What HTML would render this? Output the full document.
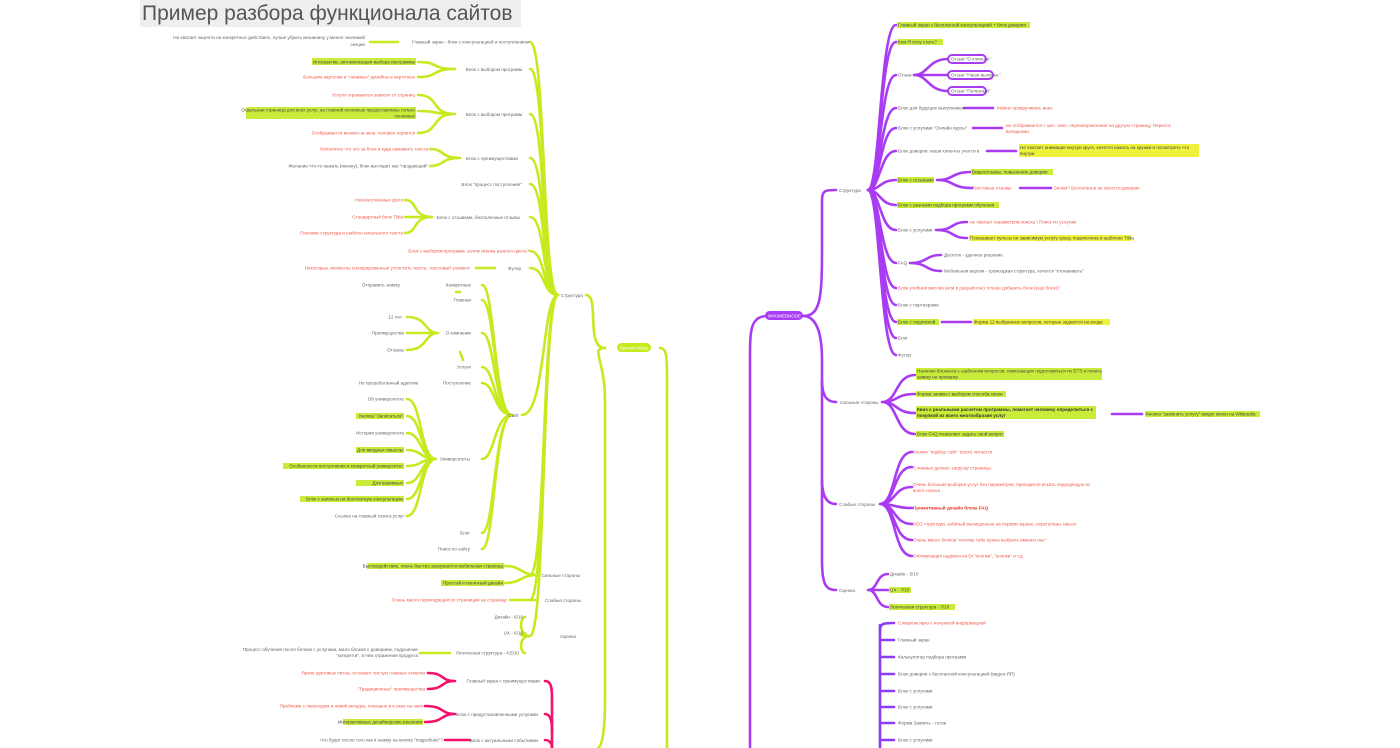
<!DOCTYPE html>
<html><head><meta charset="utf-8"><style>
html,body{margin:0;padding:0;background:#fff;width:1400px;height:748px;overflow:hidden}
svg{display:block}
text{font-family:"Liberation Sans",sans-serif;font-size:4.6px;fill:#666}
.r{fill:#f0584a}.b{font-weight:bold;fill:#333}.rb{font-weight:bold;fill:#e53a2a}
.e{text-anchor:end}
.g{stroke:#c5ea1e;fill:none;stroke-linecap:round}
.p{stroke:#a93cf2;fill:none;stroke-linecap:round}
.k{stroke:#f5116b;fill:none;stroke-linecap:round}
.v{stroke:#8d3cf5;fill:none;stroke-linecap:round}
.hl{fill:#c9ec3a}.hy{fill:#eef23a}
</style></head><body>
<svg width="1400" height="748" viewBox="0 0 1400 748">
<rect x="140" y="0" width="381" height="27" fill="#eeeeee"/>
<text x="142" y="20" style="font-size:21px;fill:#555">Пример разбора функционала сайтов</text>

<!-- GREEN main -->
<g class="g" stroke-width="2.6">
<path d="M605,348 C585,348 600,295 586,295"/>
<path d="M605,348 C590,348 605,360 605,400 L605,700 C605,740 600,748 598,748"/>
<path d="M660,348 C668,348 667,360 667,400 L667,748"/>
<path d="M558,295 C542,295 546,42 530,42"/>
<path d="M558,295 C542,295 546,69 530,69"/>
<path d="M558,295 C542,295 546,114 530,114"/>
<path d="M558,295 C542,295 546,158 530,158"/>
<path d="M558,295 C542,295 546,184 530,184"/>
<path d="M558,295 C542,295 546,217 530,217"/>
<path d="M558,295 C542,295 546,251 530,251"/>
<path d="M558,295 C542,295 546,268 530,268"/>
<path d="M558,295 C542,295 546,415 522,415"/>
<path d="M558,295 C542,295 546,575 530,575"/>
<path d="M558,295 C542,295 546,600 530,600"/>
<path d="M558,295 C542,295 546,636 530,636"/>
<path d="M370,42 L398,42"/>
<path d="M455,69 C430,69 440,62 418,62 M455,69 C430,69 440,77 418,77"/>
<path d="M455,114 C430,114 440,95 418,95 M455,114 C430,114 440,111 418,111 M455,114 C430,114 440,133 418,133"/>
<path d="M460,158 C440,158 445,149 430,149 M460,158 C440,158 445,166 430,166"/>
<path d="M432,217 C412,217 418,200 405,200 M432,217 C412,217 418,217 405,217 M432,217 C412,217 418,233 405,233"/>
<path d="M476,268 L495,268"/>
<path d="M512,415 C494,415 495,285 482,285"/>
<path d="M512,415 C494,415 495,300 482,300"/>
<path d="M512,415 C494,415 495,333 482,333"/>
<path d="M512,415 C494,415 495,367 482,367"/>
<path d="M512,415 C494,415 495,383 482,383"/>
<path d="M512,415 C494,415 495,459 482,459"/>
<path d="M512,415 C494,415 495,533 482,533"/>
<path d="M512,415 C494,415 495,549 482,549"/>
<path d="M438,333 C424,333 428,317 407,317 M438,333 C424,333 428,333 407,333 M438,333 C424,333 428,350 407,350"/>
<path d="M436,459 C420,459 422,399 407,399 M436,459 C420,459 422,416 407,416 M436,459 C420,459 422,433 407,433 M436,459 C420,459 422,450 407,450 M436,459 C420,459 422,466 407,466 M436,459 C420,459 422,483 407,483 M436,459 C420,459 422,499 407,499 M436,459 C420,459 422,516 407,516"/>
<path d="M538,575 C520,575 522,566 505,566 M538,575 C520,575 522,583 505,583"/>
<path d="M510,600 L535,600"/>
<path d="M530,636 C518,636 520,617 525,617 M530,636 C518,636 520,633 525,633 M530,636 C518,636 520,653 525,653"/>
<path d="M420,653 L450,653"/>
<path d="M456,292 L460,292 M460,352 L463,360"/>
</g>
<rect x="617" y="343" width="34" height="9" rx="4.5" fill="#c5ea1e"/>
<text x="620" y="349.5" style="fill:#fff;font-size:4.5px">Кратий обзор</text>

<!-- green labels -->
<text class="e" x="529" y="43.5">Главный экран - блок с консультацией и поступлением</text>
<text class="e" x="365" y="39">Не хватает акцента на конкретных действиях, лучше убрать мешанину у менее значимой</text>
<text class="e" x="365" y="46">секции</text>
<text class="e" x="522" y="71">Блок с выбором программ</text>
<rect x="312" y="58" width="104" height="7" class="hl"/>
<text class="e" x="415" y="63.5" style="fill:#444">Интерактив, автоматизация выбора программы</text>
<text class="e r" x="415" y="78.5">Большие карточки и "ленивые" дизайны в карточках</text>
<text class="e" x="522" y="116">Блок с выбором программ</text>
<text class="e r" x="415" y="96.5">Услуги отражаются зависит от страниц</text>
<rect x="246" y="107" width="170" height="12" class="hl"/>
<text class="e" x="415" y="111.5" style="fill:#444">Отдельная страница для всех услуг, на главной основные предоставлены только</text>
<text class="e" x="415" y="117.5" style="fill:#444">основные</text>
<text class="e r" x="415" y="134.5">Отображается иконки на окне, человек теряется</text>
<text class="e" x="518" y="160">Блок с преимуществами</text>
<text class="e r" x="428" y="150.5">Непонятно что это за блок и куда нажимать текста</text>
<text class="e" x="428" y="167.5">Желание что-то нажать (иконку), блок выглядит как "продающий"</text>
<text class="e" x="522" y="186">Блок "процесс поступления"</text>
<text class="e" x="520" y="219">Блок с отзывами, бесполезные отзывы</text>
<text class="e r" x="403" y="201.5">Некачественные фото</text>
<text class="e r" x="403" y="218.5">Стандартный блок Tilda</text>
<text class="e r" x="403" y="234.5">Похожие структура и шаблон начального текста</text>
<text class="e r" x="529" y="252.5">Блок с выбором программ, зачем иконка разного цвета?</text>
<text class="e" x="521" y="270">Футер</text>
<text class="e r" x="470" y="269.5">Некоторые элементы сгенерированные утолстить текста, текстовый элемент</text>
<text x="561" y="297">Структура</text>
<text class="e" x="519" y="417">Сайт</text>
<text class="e" x="471" y="286.5">Конкретные</text>
<text class="e" x="400" y="286.5">Отправить заявку</text>
<text class="e" x="471" y="301.5">Главная</text>
<text class="e" x="471" y="334.5">О компании</text>
<text class="e" x="402" y="318.5">12 лет</text>
<text class="e" x="404" y="334.5">Преимущества</text>
<text class="e" x="404" y="351.5">Отзывы</text>
<text class="e" x="471" y="368.5">Услуги</text>
<text class="e" x="471" y="384.5">Поступление</text>
<text class="e" x="418" y="384.5">Не проработанный адаптив</text>
<text class="e" x="470" y="460.5">Университеты</text>
<text class="e" x="404" y="400.5">Об университете</text>
<rect x="356" y="413" width="48" height="6" class="hl"/><text class="e" x="403" y="417.5" style="fill:#444">Кнопка "Записаться"</text>
<text class="e" x="404" y="434.5">История университета</text>
<rect x="356" y="447" width="48" height="6" class="hl"/><text class="e" x="403" y="451.5" style="fill:#444">Для вводных смыслы</text>
<rect x="283" y="463" width="121" height="6" class="hl"/><text class="e" x="403" y="467.5" style="fill:#444">Особенности поступления в конкретный университет</text>
<rect x="356" y="480" width="48" height="6" class="hl"/><text class="e" x="403" y="484.5" style="fill:#444">Для взаимных</text>
<rect x="300" y="496" width="104" height="6" class="hl"/><text class="e" x="403" y="500.5" style="fill:#444">Блок с записью на бесплатную консультацию</text>
<text class="e" x="404" y="517.5">Ссылка на главный тезиса услуг</text>
<text class="e" x="470" y="534.5">Блог</text>
<text class="e" x="470" y="550.5">Поиск по сайту</text>
<text class="e" x="580" y="577">Сильные стороны</text>
<rect x="367" y="563" width="137" height="6" class="hl"/><text class="e" x="503" y="567.5" style="fill:#444">Быстродействие, очень быстро загружается мобильная страница</text>
<rect x="441" y="580" width="63" height="6" class="hl"/><text class="e" x="503" y="584.5" style="fill:#444">Простой и понятный дизайн</text>
<text class="e" x="581" y="602">Слабые стороны</text>
<text class="e r" x="507" y="601.5">Очень много переходящей по страницам на странице</text>
<text class="e" x="576" y="638">Оценка</text>
<text class="e" x="523" y="618.5">Дизайн - 6/10</text>
<text class="e" x="523" y="634.5">UX - 6/10</text>
<text class="e" x="519" y="654.5">Логическая структура - 4,5/10</text>
<text class="e" x="418" y="651">Процесс обучения после блоков с услугами, мало блоков с доверием, подушение</text>
<text class="e" x="418" y="657">"концепти", в нем отражения продукта</text>

<!-- pink -->
<g class="k" stroke-width="2.6">
<path d="M545,681 C552,681 552,690 552,700 L552,748"/>
<path d="M545,714 C550,714 552,720 552,730"/>
<path d="M545,740 C550,740 552,744 552,748"/>
<path d="M455,681 C440,681 445,673 428,673 M455,681 C440,681 445,689 428,689"/>
<path d="M455,714 C440,714 445,706 425,706 M455,714 C440,714 445,722 425,722"/>
<path d="M445,740 L470,740"/>
</g>
<text class="e" x="540" y="682.5">Главный экран с преимуществами</text>
<text class="e r" x="425" y="674.5">Яркие цветовые пятна, отсекают чистую главные отметки</text>
<text class="e r" x="425" y="690.5">"Традиционные" преимущества</text>
<text class="e" x="538" y="716">Блок с предустановленными услугами</text>
<text class="e r" x="423" y="707.5">Проблема с переходом в новой вкладке, показано в в окне на окне</text>
<rect x="343" y="719" width="80" height="6" class="hl"/><text class="e" x="422" y="723.5" style="fill:#444">Интерактивные дизайнерские решения</text>
<text class="e" x="538" y="742">Блок с актуальными событиями</text>
<text class="e" x="443" y="741.5">Что будет после того как я нажму на кнопку "подробнее"?</text>

<!-- PURPLE -->
<g class="p" stroke-width="2.6">
<path d="M768,316 C750,316 750,330 750,360 L750,748"/>
<path d="M803,316 C820,316 822,300 822,250 L822,200 C822,190 826,190 836,190"/>
<path d="M803,316 C815,316 822,330 822,360 L822,560 C822,585 826,590 836,590"/>
<path d="M822,380 C822,395 826,402 836,402"/>
<path d="M822,480 C822,495 826,504 836,504"/>
<path d="M868,190 C880,190 880,25 896,25"/>
<path d="M868,190 C880,190 880,42 896,42"/>
<path d="M868,190 C880,190 880,75 896,75"/>
<path d="M868,190 C880,190 880,108 896,108"/>
<path d="M868,190 C880,190 880,128 896,128"/>
<path d="M868,190 C880,190 880,151 896,151"/>
<path d="M868,190 C880,190 880,180 896,180"/>
<path d="M868,190 C880,190 880,205 896,205"/>
<path d="M868,190 C880,190 880,230 896,230"/>
<path d="M868,190 C880,190 880,263 896,263"/>
<path d="M868,190 C880,190 880,288 896,288"/>
<path d="M868,190 C880,190 880,305 896,305"/>
<path d="M868,190 C880,190 880,322 896,322"/>
<path d="M868,190 C880,190 880,338 896,338"/>
<path d="M868,190 C880,190 880,355 896,355"/>
<path d="M914,75 C928,75 928,59 948,59 M914,75 L948,75 M914,75 C928,75 928,91 948,91"/>
<path d="M964,108 L993,108"/>
<path d="M973,128 L1002,128"/>
<path d="M987,151 L1016,151"/>
<path d="M937,180 C955,180 950,172 972,172 M937,180 C955,180 950,188 972,188"/>
<path d="M1020,188 L1051,188"/>
<path d="M936,230 C955,230 950,222 967,222 M936,230 C955,230 950,238 967,238"/>
<path d="M910,263 C928,263 925,255 941,255 M910,263 C928,263 925,271 941,271"/>
<path d="M942,322 L971,322"/>
<path d="M882,402 C898,402 895,375 915,375 M882,402 C898,402 895,394 915,394 M882,402 C898,402 895,413 915,413 M882,402 C898,402 895,434 915,434"/>
<path d="M1112,414 L1142,414"/>
<path d="M880,504 C896,504 893,452 912,452 M880,504 C896,504 893,467 912,467 M880,504 C896,504 893,487 912,487 M880,504 C896,504 893,508 912,508 M880,504 C896,504 893,524 912,524 M880,504 C896,504 893,540 912,540 M880,504 C896,504 893,556 912,556"/>
<path d="M868,590 C878,590 876,574 888,574 M868,590 L888,590 M868,590 C878,590 876,607 888,607"/>
</g>
<g fill="#fff" stroke="#a93cf2" stroke-width="2">
<rect x="948" y="55" width="38" height="8" rx="4"/>
<rect x="948" y="71" width="45" height="8" rx="4"/>
<rect x="948" y="87" width="38" height="8" rx="4"/>
</g>
<text x="951" y="60.5">Отзыв "О клиенте"</text>
<text x="951" y="76.5">Отзыв "Наши выпускн."</text>
<text x="951" y="92.5">Отзыв "Полезный"</text>
<rect x="765" y="311" width="38" height="9" rx="4.5" fill="#a93cf2"/>
<text x="768" y="317.5" style="fill:#fff;font-size:4.5px">WIKIWEBNODE</text>
<text x="839" y="192">Структура</text>
<text x="840" y="404">Сильные стороны</text>
<text x="839" y="506">Слабые стороны</text>
<text x="839" y="592">Оценка</text>

<rect x="897" y="22" width="133" height="6" class="hl"/><text x="898" y="26.5" style="fill:#444">Главный экран с бесплатной консультацией + блок доверия</text>
<rect x="897" y="39" width="46" height="6" class="hl"/><text x="898" y="43.5" style="fill:#444">Кем Я хочу стать?</text>
<text x="898" y="76.5">Отзыв</text>
<text x="898" y="109.5">Блок для будущих выпускников</text>
<text x="997" y="109.5" class="r">Можно прокручивать вниз</text>
<text x="898" y="129.5">Блок с услугами "Онлайн курсы"</text>
<text x="1006" y="127" class="r">не отображается с цел. окне, перенаправление на другую страницу. Пересоз</text>
<text x="1006" y="133" class="r">вкладками</text>
<text x="898" y="152.5">Блок доверия: наши клиенты учатся в</text>
<rect x="1019" y="144" width="180" height="13" class="hy"/>
<text x="1020" y="149" style="fill:#444">Не хватает анимации внутри круга, хочется нажать на кружки и посмотреть что</text>
<text x="1020" y="155" style="fill:#444">внутри</text>
<rect x="897" y="177" width="37" height="6" class="hl"/><text x="898" y="181.5" style="fill:#444">Блок с отзывами</text>
<rect x="971" y="169" width="82" height="6" class="hl"/><text x="972" y="173.5" style="fill:#444">Видеоотзывы, повышение доверия</text>
<text x="972" y="189.5" class="r">Текстовые отзывы</text>
<text x="1054" y="189.5" class="r">Зачем? Бесполезно не несется доверие</text>
<rect x="897" y="202" width="102" height="6" class="hl"/><text x="898" y="206.5" style="fill:#444">Блок с разными подбора программ обучения</text>
<text x="898" y="231.5">Блок с услугами</text>
<text x="970" y="223.5" class="r">не хватает параметров поиска \ Поиск по услугам</text>
<rect x="969" y="235" width="162" height="6" class="hy"/><text x="970" y="239.5" style="fill:#444">Показывает пульсы он зависимую услугу сразу, подключена в шаблоне Tilda</text>
<text x="898" y="264.5">FAQ</text>
<text x="944" y="256.5">Десктоп - удачное решение</text>
<text x="944" y="272.5">Мобильная версия - громоздкая структура, хочется "отскакивать"</text>
<text x="898" y="289.5" class="r">Блок учебной миссии (или в разработке) точнее добавить блок (ещё блок)?</text>
<text x="898" y="306.5">Блок с партнерами</text>
<rect x="897" y="319" width="42" height="6" class="hl"/><text x="898" y="323.5" style="fill:#444">Блок с подпиской</text>
<rect x="973" y="319" width="137" height="6" class="hy"/><text x="974" y="323.5" style="fill:#444">Форма 12 выбранных вопросов, которые задаются на входе</text>
<text x="898" y="339.5">Блог</text>
<text x="898" y="356.5">Футер</text>

<rect x="916" y="368" width="186" height="12" class="hl"/>
<text x="917" y="372.5" style="fill:#444">Наличие блокнота с шаблоном вопросов, помогающих подготовиться по ЕГЭ и понять</text>
<text x="917" y="378.5" style="fill:#444">заявку на проверку</text>
<rect x="916" y="391" width="90" height="6" class="hl"/><text x="917" y="395.5" style="fill:#444">Форма заявки с выбором способа связи</text>
<rect x="916" y="406" width="180" height="13" class="hl"/>
<text x="917" y="411" class="b">Квиз с реальными расчетом программы, помогает человеку определиться с</text>
<text x="917" y="417" class="b">покупкой из всего многообразия услуг</text>
<rect x="1145" y="411" width="115" height="6" class="hl"/><text x="1146" y="415.5" style="fill:#444">Кнопка "заменить услугу" вокруг меню на Wikipedia</text>
<rect x="916" y="431" width="88" height="6" class="hl"/><text x="917" y="435.5" style="fill:#444">Блок FAQ позволяет задать свой вопрос</text>
<text x="913" y="453.5" class="r">Кнопки "подбор сайт" плохо читается</text>
<text x="913" y="469.5" class="r">Сложные делают загрузку страницы</text>
<text x="913" y="486" class="r">Очень большая выборка услуг без параметров, приходится искать подходящую из</text>
<text x="913" y="492" class="r">всего списка</text>
<text x="913" y="509.5" class="rb">Примитивный дизайн блока FAQ</text>
<text x="913" y="525.5" class="r">SEO структура, забитый вычищенные на первом экране, перепутаны смысл</text>
<text x="913" y="541.5" class="r">Очень много блоков "почему тебе нужно выбрать именно нас"</text>
<text x="913" y="557.5" class="r">Оптимизация надписи на Dr "кнопки", "кнопки" и т.д</text>
<text x="890" y="575.5">Дизайн - 5/10</text>
<rect x="889" y="587" width="22" height="6" class="hl"/><text x="890" y="591.5" style="fill:#444">UX - 7/10</text>
<rect x="889" y="604" width="66" height="6" class="hl"/><text x="890" y="608.5" style="fill:#444">Логическая структура - 7/10</text>

<!-- lower violet -->
<g class="v" stroke-width="2.6">
<path d="M880,630 C880,623 885,623 894,623"/>
<path d="M880,625 L880,748"/>
<path d="M880,640 L894,640 M880,657 L894,657 M880,674 L894,674 M880,691 L894,691 M880,707 L894,707 M880,723 L894,723 M880,740 L894,740"/>
</g>
<text x="898" y="624.5" class="r">Слишком ярко с ненужной информацией</text>
<text x="898" y="641.5">Главный экран</text>
<text x="898" y="658.5">Калькулятор подбора программ</text>
<text x="898" y="675.5">Блок доверия с бесплатной консультацией (видео-ЯП)</text>
<text x="898" y="692.5">Блок с услугами</text>
<text x="898" y="708.5">Блок с услугами</text>
<text x="898" y="724.5">Форма Заявить - готов</text>
<text x="898" y="741.5">Блок с услугами</text>
</svg>
</body></html>
